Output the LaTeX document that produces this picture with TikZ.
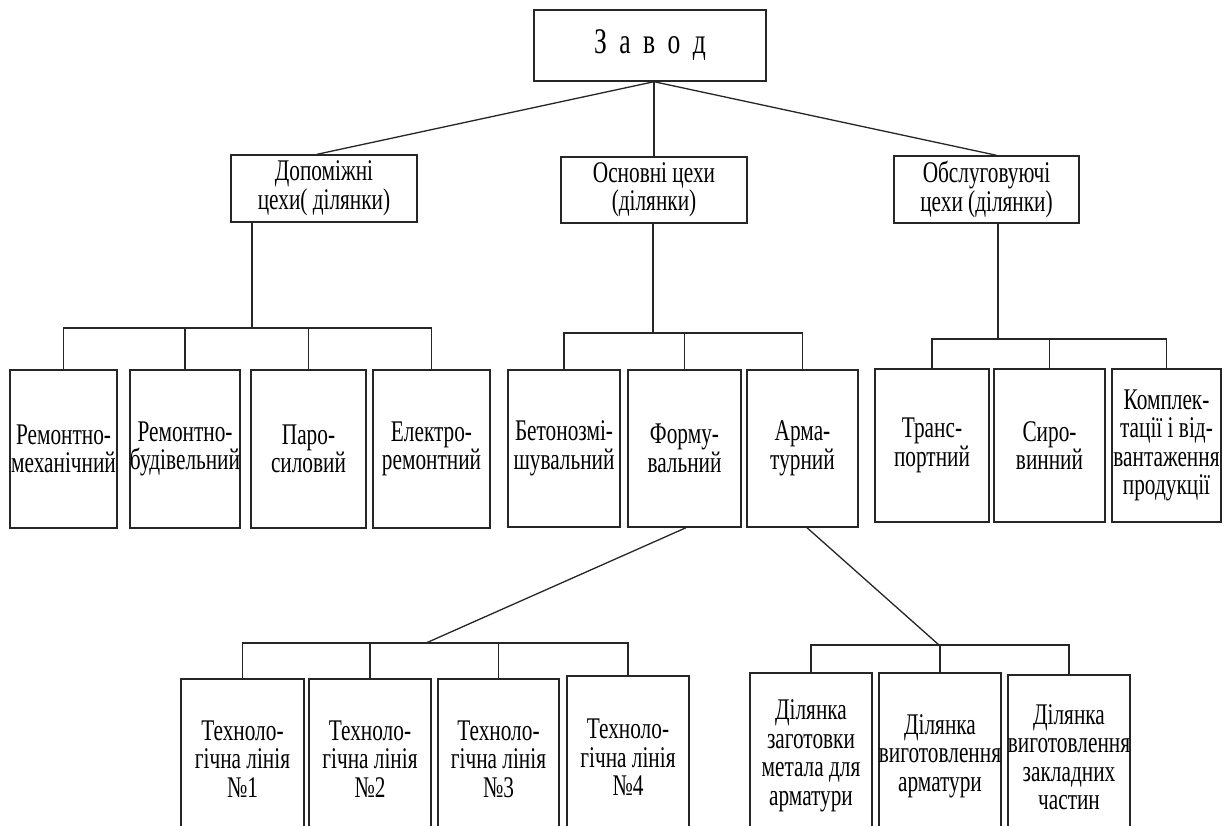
\documentclass[tikz,border=0pt]{standalone}
\usepackage{fontspec}
\usetikzlibrary{calc}
\newfontfamily\diagfont[FakeStretch=0.71]{Liberation Serif}
\newcommand\boxfont{\diagfont\fontsize{30}{28.5}\selectfont}
\newcommand\topfont{\diagfont\fontsize{36}{36}\selectfont}
\tikzset{
  unit/.style={draw=black!85, line width=1.4pt, inner sep=0pt, align=center, font=\boxfont},
  link/.style={draw=black!85, line width=1.3pt}
}
\begin{document}
\begin{tikzpicture}[x=1pt,y=-1pt]
    \clip (0,0) rectangle (1228,825);
    \fill[white] (0,0) rectangle (1228,825);
    % top levels
    \node[unit, font=\topfont, minimum width=232, minimum height=71] (zavod) at (650,45.5) {З\, а\, в\, о\, д};
    \node[unit, minimum width=186, minimum height=67] (dop) at (324,188.5) {Допоміжні\\цехи( ділянки)};
    \node[unit, minimum width=186, minimum height=66] (osn) at (654,190) {Основні цехи\\(ділянки)};
    \node[unit, minimum width=185, minimum height=67] (obs) at (986.5,189.5) {Обслуговуючі\\цехи (ділянки)};
    \coordinate (apex) at (osn.north |- zavod.south);
    \draw[link] (apex) -- ($(dop.north)+(-7,0)$);
    \draw[link] (apex) -- (osn.north);
    \draw[link] (apex) -- ($(obs.north)+(10,0)$);
    % departments
    \node[unit, minimum width=107, minimum height=158] (rm) at (63.5,449) {Ремонтно-\\механічний};
    \node[unit, minimum width=110, minimum height=158] (rb) at (185,449) {Ремонтно-\\будівельний};
    \node[unit, minimum width=115, minimum height=158] (ps) at (308.5,449) {Паро-\\силовий};
    \node[unit, minimum width=117, minimum height=158] (er) at (431.5,449) {Електро-\\ремонтний};
    \node[unit, minimum width=112, minimum height=157] (bz) at (564,448.5) {Бетонозмі-\\шувальний};
    \node[unit, minimum width=113, minimum height=157] (fv) at (684.5,448.5) {Форму-\\вальний};
    \node[unit, minimum width=111, minimum height=157] (arm) at (802.5,448.5) {Арма-\\турний};
    \node[unit, minimum width=114, minimum height=153] (tr) at (932,445.5) {Транс-\\портний};
    \node[unit, minimum width=111, minimum height=153] (sv) at (1049.5,445.5) {Сиро-\\винний};
    \node[unit, minimum width=109, minimum height=153] (kv) at (1166.5,445.5) {Комплек-\\тації і від-\\вантаження\\продукції};
    \coordinate (busdop) at (252,328);
    \coordinate (busosn) at (653,333);
    \coordinate (busobs) at (998,339);
    \draw[link] (dop.south -| busdop) -- (busdop);
    \draw[link] (rm.north) |- (er.north |- busdop) -- (er.north);
    \foreach \n in {rb,ps}
      \draw[link] (\n.north) -- (\n.north |- busdop);
    \draw[link] (osn.south -| busosn) -- (busosn);
    \draw[link] (bz.north) |- (arm.north |- busosn) -- (arm.north);
    \draw[link] (fv.north) -- (fv.north |- busosn);
    \draw[link] (obs.south -| busobs) -- (busobs);
    \draw[link] (tr.north) |- (kv.north |- busobs) -- (kv.north);
    \draw[link] (sv.north) -- (sv.north |- busobs);
    % lines and sections
    \node[unit, minimum width=123, minimum height=160] (tl1) at (242.5,759) {Техноло-\\гічна лінія\\№1};
    \node[unit, minimum width=122, minimum height=160] (tl2) at (370,759) {Техноло-\\гічна лінія\\№2};
    \node[unit, minimum width=121, minimum height=160] (tl3) at (498.5,759) {Техноло-\\гічна лінія\\№3};
    \node[unit, minimum width=122, minimum height=163] (tl4) at (628,757.5) {Техноло-\\гічна лінія\\№4};
    \node[unit, minimum width=122, minimum height=166] (dz) at (811,756) {Ділянка\\заготовки\\метала для\\арматури};
    \node[unit, minimum width=122, minimum height=166] (da) at (940,756) {Ділянка\\виготовлення\\арматури};
    \node[unit, minimum width=122, minimum height=164] (dc) at (1069,757) {Ділянка\\виготовлення\\закладних\\частин};
    \coordinate (busfv) at (426,643);
    \coordinate (busarm) at (939,645);
    \draw[link] ($(fv.south)+(1.5,0)$) -- (busfv);
    \draw[link] (tl1.north) |- (tl4.north |- busfv) -- (tl4.north);
    \foreach \n in {tl2,tl3}
      \draw[link] (\n.north) -- (\n.north |- busfv);
    \draw[link] ($(arm.south)+(4.5,0)$) -- (busarm);
    \draw[link] (dz.north) |- (dc.north |- busarm) -- (dc.north);
    \draw[link] (da.north) -- (da.north |- busarm);
\end{tikzpicture}
\end{document}
